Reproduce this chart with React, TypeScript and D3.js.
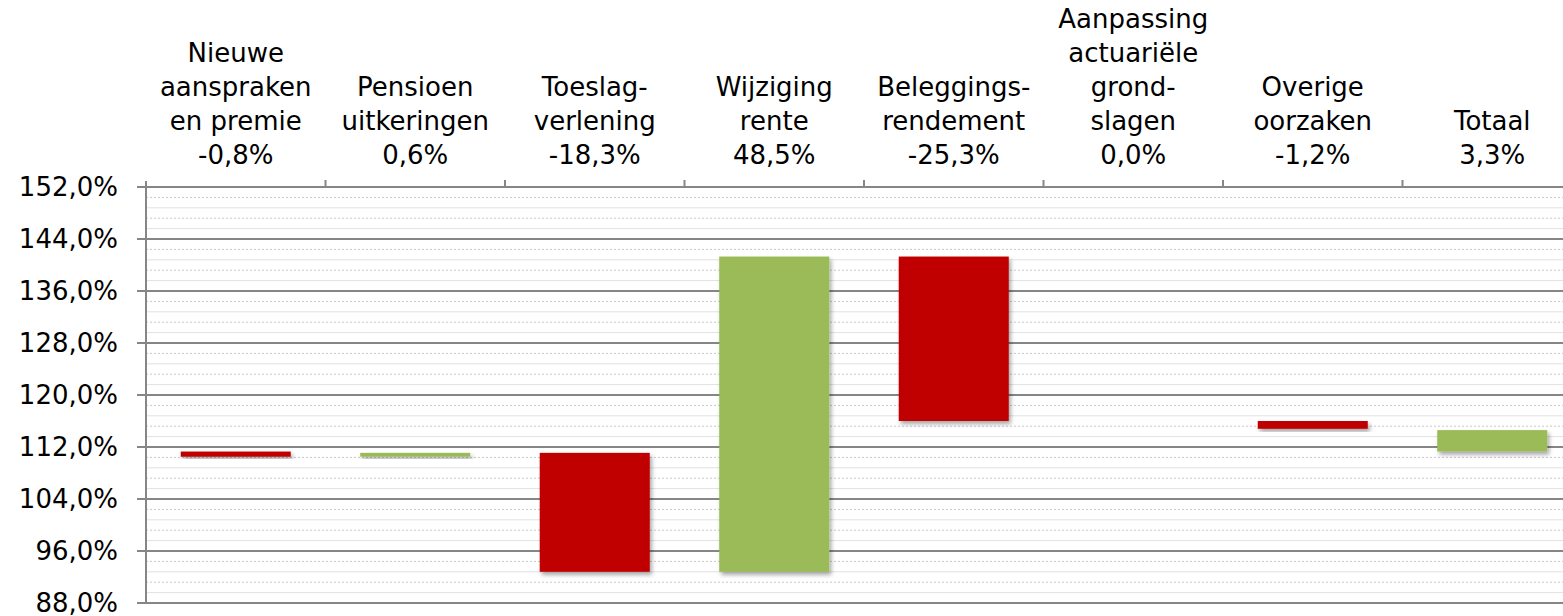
import { useMemo } from "react";
import * as d3 from "d3";

// category labels (multi-line) and their value captions
const categoryLines: string[][] = [
  ["Nieuwe", "aanspraken", "en premie"],
  ["Pensioen", "uitkeringen"],
  ["Toeslag-", "verlening"],
  ["Wijziging", "rente"],
  ["Beleggings-", "rendement"],
  ["Aanpassing", "actuariële", "grond-", "slagen"],
  ["Overige", "oorzaken"],
  ["Totaal"],
];
const valueLabels = ["-0,8%", "0,6%", "-18,3%", "48,5%", "-25,3%", "0,0%", "-1,2%", "3,3%"];

// waterfall steps (percentage points) and the starting level
const startValue = 111.3;
const changes = [-0.8, 0.6, -18.3, 48.5, -25.3, 0.0, -1.2];
const totalChange = 3.3;

const yTicks = [88, 96, 104, 112, 120, 128, 136, 144, 152];

const W = 1563;
const H = 616;
const RED = "#C00000";
const GREEN = "#9BBB59";
const AXIS = "#868686";
const FONT = "'DejaVu Sans', Verdana, sans-serif";

export default function App() {
  const left = 146;
  const bandW = 179.5;
  const n = categoryLines.length;

  const x = d3
    .scaleBand<number>()
    .domain(d3.range(n))
    .range([left, left + n * bandW])
    .padding(0);
  const y = d3.scaleLinear().domain([88, 152]).range([603, 187]);

  const bars = useMemo(() => {
    const out: { i: number; from: number; to: number; up: boolean }[] = [];
    let level = startValue;
    changes.forEach((c, i) => {
      out.push({ i, from: level, to: level + c, up: c >= 0 });
      level += c;
    });
    out.push({ i: n - 1, from: startValue, to: startValue + totalChange, up: totalChange >= 0 });
    return out;
  }, [n]);

  const minorTicks: number[] = [];
  for (let t = 88; t < 152; t += 8) {
    for (let k = 1; k < 5; k++) minorTicks.push(t + k * 1.6);
  }

  const barW = bandW * 0.613;
  const right = left + n * bandW;
  const fmt = (v: number) => d3.format(".1f")(v).replace(".", ",") + "%";

  return (
    <svg
      width={W}
      height={H}
      style={{ position: "absolute", left: 0, top: 0, background: "#fff" }}
      fontFamily={FONT}
    >
      <defs>
        <filter id="shadow" x="-10%" y="-20%" width="130%" height="160%">
          <feDropShadow dx="2" dy="3" stdDeviation="2" floodColor="#000" floodOpacity="0.35" />
        </filter>
      </defs>

      {/* minor gridlines */}
      {minorTicks.map((t, i) => (
        <line
          key={"m" + i}
          x1={left}
          x2={right}
          y1={y(t)}
          y2={y(t)}
          stroke={i % 2 === 0 ? "#e2e2e2" : "#c9c9c9"}
          strokeWidth={1}
          strokeDasharray={i % 2 === 0 ? undefined : "2,2"}
        />
      ))}

      {/* major gridlines + y ticks */}
      {yTicks.map((t) => (
        <g key={t}>
          <line x1={137} x2={right} y1={y(t)} y2={y(t)} stroke={AXIS} strokeWidth={2} />
          <text
            x={118}
            y={y(t)}
            dy="0.35em"
            textAnchor="end"
            fontSize={26}
            fill="#000"
          >
            {fmt(t)}
          </text>
        </g>
      ))}

      {/* y axis */}
      <line x1={left} x2={left} y1={y(152) - 6} y2={y(88)} stroke={AXIS} strokeWidth={2} />

      {/* category boundary ticks on top axis */}
      {d3.range(1, n).map((i) => (
        <line
          key={"c" + i}
          x1={x(i)!}
          x2={x(i)!}
          y1={y(152) - 7}
          y2={y(152)}
          stroke={AXIS}
          strokeWidth={2}
        />
      ))}

      {/* bars */}
      {bars
        .filter((b) => Math.abs(b.to - b.from) > 0.01)
        .map((b, k) => {
          const cx = x(b.i)! + bandW / 2;
          const top = y(Math.max(b.from, b.to));
          const bottom = y(Math.min(b.from, b.to));
          return (
            <rect
              key={"b" + k}
              x={cx - barW / 2}
              y={top}
              width={barW}
              height={bottom - top}
              fill={b.up ? GREEN : RED}
              filter="url(#shadow)"
            />
          );
        })}

      {/* category labels */}
      {categoryLines.map((lines, i) => {
        const cx = x(i)! + bandW / 2;
        const all = [...lines, valueLabels[i]];
        const baseY = 164;
        return (
          <text key={"l" + i} textAnchor="middle" fontSize={26} fill="#000">
            {all.map((s, j) => (
              <tspan key={j} x={cx} y={baseY - (all.length - 1 - j) * 34}>
                {s}
              </tspan>
            ))}
          </text>
        );
      })}
    </svg>
  );
}
